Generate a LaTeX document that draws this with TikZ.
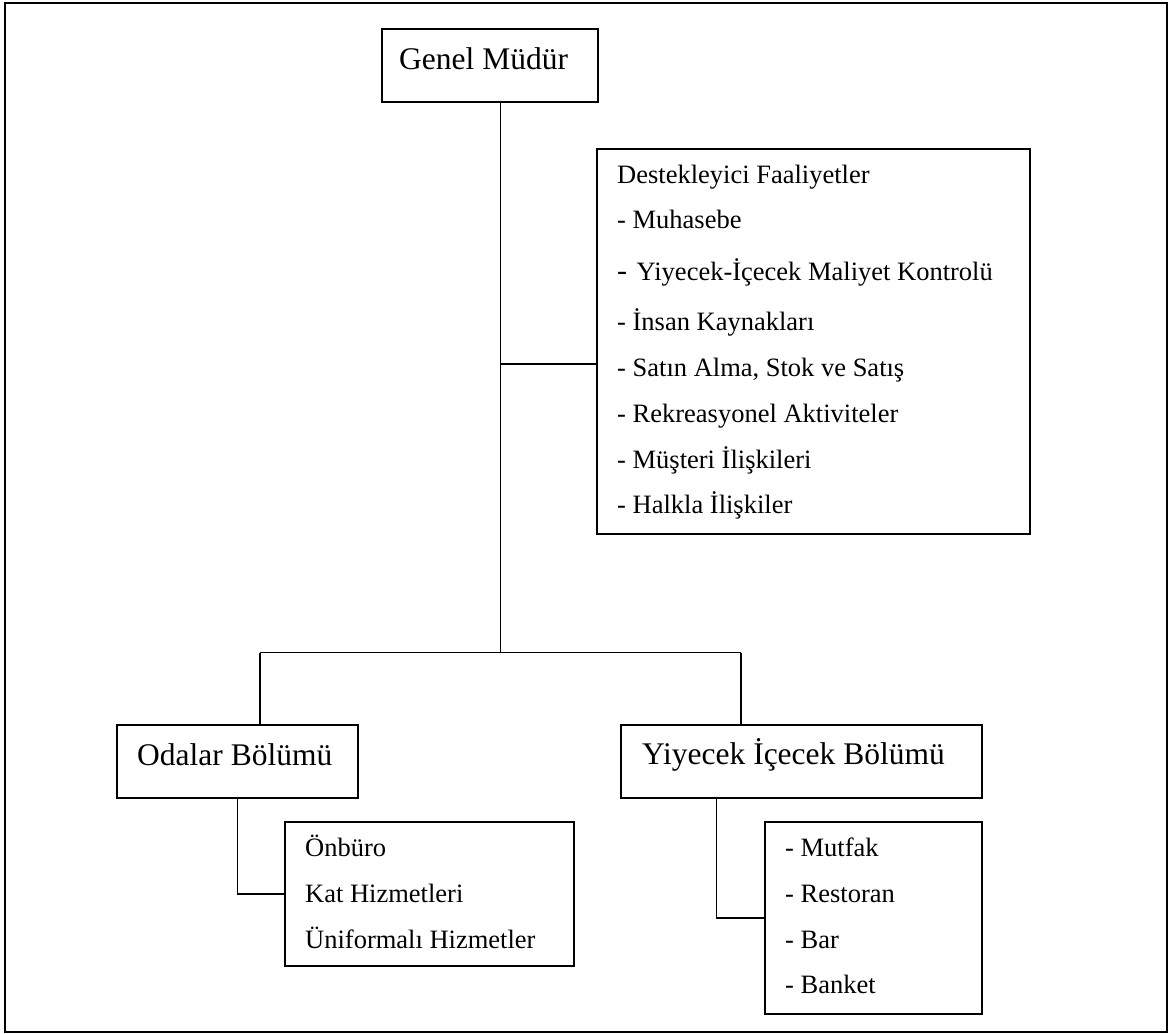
\documentclass[tikz,border=0pt]{standalone}
\usepackage{fontspec}
\setmainfont{Liberation Serif}
\begin{document}
\begin{tikzpicture}[x=1pt,y=-1pt,
  box/.style={draw, line width=2pt, rectangle, inner sep=0pt, anchor=north west},
  conn/.style={line width=1.5pt},
  big/.style={font=\fontsize{31.5}{36}\selectfont, anchor=base west, inner sep=0pt},
  small/.style={font=\fontsize{26.5}{30}\selectfont, anchor=base west, inner sep=0pt}]
\path[use as bounding box] (0,0) rectangle (1171,1034);
\draw[line width=2pt] (4.5,3) rectangle (1166.5,1031.5);

% boxes
\node[box, minimum width=216pt, minimum height=73pt] (gm) at (380.7,28) {};
\node[box, minimum width=432.5pt, minimum height=384.5pt] (ds) at (596,148) {};
\node[box, minimum width=241pt, minimum height=73pt] (od) at (116,724) {};
\node[box, minimum width=361pt, minimum height=73pt] (yi) at (620,724) {};
\node[box, minimum width=289pt, minimum height=144pt] (ob) at (284,821) {};
\node[box, minimum width=217pt, minimum height=192pt] (mb) at (764,821) {};

% texts
\node[big] (gmt) at (399,69) {Genel Müdür};
\node[big] (odt) at (137,765) {Odalar Bölümü};
\node[big] (yit) at (642,764) {Yiyecek İçecek Bölümü};

\node[small] (ds1) at (617,183) {Destekleyici Faaliyetler};
\node[small] (ds2) at (617,228) {- Muhasebe};
\node[small] (ds3) at (617,280) {{\fontsize{30}{30}\selectfont -}\hspace{9.5pt}Yiyecek-İçecek Maliyet Kontrolü};
\node[small] (ds4) at (617,330) {- İnsan Kaynakları};
\node[small] (ds5) at (617,376) {- Satın Alma, Stok ve Satış};
\node[small] (ds6) at (617,422) {- Rekreasyonel Aktiviteler};
\node[small] (ds7) at (617,468) {- Müşteri İlişkileri};
\node[small] (ds8) at (617,513) {- Halkla İlişkiler};

\node[small] (ob1) at (305,856) {Önbüro};
\node[small] (ob2) at (305,902) {Kat Hizmetleri};
\node[small] (ob3) at (305,948) {Üniformalı Hizmetler};

\node[small] (mb1) at (785,856) {- Mutfak};
\node[small] (mb2) at (785,902) {- Restoran};
\node[small] (mb3) at (785,948) {- Bar};
\node[small] (mb4) at (785,993) {- Banket};

% connectors
\coordinate (trunk) at (500.7,652.7);
\coordinate (barL) at (260,652.7);
\coordinate (barR) at (741,652.7);
\coordinate (dsj) at (500.7,364);
\coordinate (yij) at (716.5,797);
\draw[conn] (gm.south -| trunk) -- (trunk);
\draw[conn] (dsj) -- (dsj -| ds.west);
\draw[conn] (barL) -- (barR);
\draw[conn] (barL) -- (barL |- od.north);
\draw[conn] (barR) -- (barR |- yi.north);
\draw[conn] (od.south) |- (ob.west);
\draw[conn] (yi.south -| yij) |- (mb.west);
\end{tikzpicture}
\end{document}
